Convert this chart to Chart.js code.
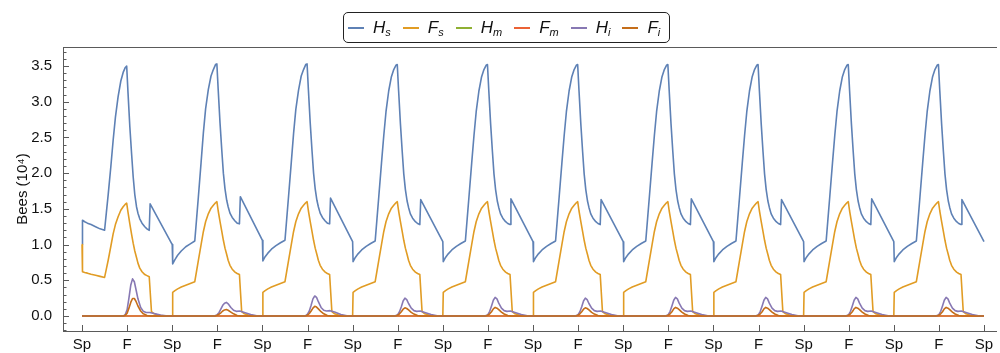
<!DOCTYPE html>
<html>
<head>
<meta charset="utf-8">
<script src="https://cdn.jsdelivr.net/npm/chart.js@4.4.1/dist/chart.umd.min.js"></script>
<style>
  body { margin: 0; background: #fff; }
  #wrap { position: relative; width: 1000px; height: 353px; }
  #legend {
    position: absolute; left: 343px; top: 12px; width: 327px; height: 31px;
    border: 1px solid #222; border-radius: 5px; box-sizing: border-box;
    display: flex; align-items: center; padding-left: 4px;
    font-family: "Liberation Sans", Arial, sans-serif; font-size: 17px; font-style: italic; color: #111;
  }
  .item { display: flex; align-items: center; margin-right: 12px; }
  .swatch { width: 16px; height: 2px; margin-right: 9px; }
  .item sub { font-size: 11px; vertical-align: -3px; }
</style>
</head>
<body>
<div id="wrap">
  <canvas id="beesChart" width="1000" height="353"></canvas>
  <div id="legend"></div>
</div>
<script>
// season ticks
const xTickValues = [0, 0.5, 1, 1.5, 2, 2.5, 3, 3.5, 4, 4.5, 5, 5.5, 6, 6.5, 7, 7.5, 8, 8.5, 9, 9.5, 10];
const xTickLabels = ["Sp", "F", "Sp", "F", "Sp", "F", "Sp", "F", "Sp", "F", "Sp", "F", "Sp", "F", "Sp", "F", "Sp", "F", "Sp", "F", "Sp"];
const yTickValues = [0, 0.5, 1, 1.5, 2, 2.5, 3, 3.5];

const seriesNames = [["H", "s"], ["F", "s"], ["H", "m"], ["F", "m"], ["H", "i"], ["F", "i"]];
const seriesColors = ["#5E81B5", "#E19C24", "#8FB032", "#EB6235", "#8778B3", "#C56E1A"];

// position within the year (0 = spring, 0.5 = fall) and values per year, in 10^4 bees
const hsPhase = [0, 0.005, 0.03, 0.06, 0.1, 0.15, 0.2, 0.25, 0.27, 0.29, 0.32, 0.345, 0.37, 0.40, 0.43,
  0.456, 0.48, 0.495, 0.51, 0.53, 0.55, 0.567, 0.585, 0.604, 0.62, 0.64, 0.665, 0.696, 0.72, 0.745, 0.755];
const hsYears = [
  [1.00, 1.34, 1.32, 1.30, 1.28, 1.25, 1.22, 1.20, 1.45, 1.70, 2.10, 2.46, 2.78, 3.07, 3.29, 3.41, 3.48, 3.50, 3.12, 2.65, 2.26, 1.95, 1.70, 1.53, 1.44, 1.36, 1.30, 1.25, 1.22, 1.20, 1.57],
  [1.00, 0.73, 0.79, 0.85, 0.91, 0.97, 1.01, 1.05, 1.36, 1.67, 2.15, 2.56, 2.90, 3.17, 3.36, 3.45, 3.52, 3.53, 3.16, 2.70, 2.31, 2.00, 1.78, 1.62, 1.53, 1.44, 1.38, 1.33, 1.30, 1.29, 1.67],
  [1.06, 0.77, 0.83, 0.88, 0.935, 0.985, 1.025, 1.06, 1.37, 1.68, 2.15, 2.55, 2.89, 3.16, 3.36, 3.45, 3.52, 3.53, 3.16, 2.70, 2.31, 2.00, 1.78, 1.62, 1.53, 1.44, 1.38, 1.33, 1.30, 1.29, 1.65],
  [1.04, 0.76, 0.82, 0.87, 0.925, 0.975, 1.015, 1.05, 1.36, 1.67, 2.14, 2.52, 2.86, 3.15, 3.35, 3.45, 3.51, 3.52, 3.15, 2.69, 2.30, 1.99, 1.77, 1.61, 1.52, 1.43, 1.37, 1.32, 1.295, 1.28, 1.63],
  [1.04, 0.76, 0.82, 0.87, 0.925, 0.975, 1.015, 1.05, 1.36, 1.67, 2.14, 2.52, 2.86, 3.15, 3.35, 3.45, 3.51, 3.52, 3.15, 2.69, 2.30, 1.99, 1.77, 1.61, 1.52, 1.43, 1.37, 1.32, 1.295, 1.28, 1.64],
  [1.04, 0.76, 0.82, 0.87, 0.925, 0.975, 1.015, 1.05, 1.36, 1.67, 2.14, 2.52, 2.86, 3.15, 3.35, 3.45, 3.51, 3.52, 3.15, 2.69, 2.30, 1.99, 1.77, 1.61, 1.52, 1.43, 1.37, 1.32, 1.295, 1.28, 1.63],
  [1.04, 0.76, 0.82, 0.87, 0.925, 0.975, 1.015, 1.05, 1.36, 1.67, 2.14, 2.52, 2.86, 3.15, 3.35, 3.45, 3.51, 3.52, 3.15, 2.69, 2.30, 1.99, 1.77, 1.61, 1.52, 1.43, 1.37, 1.32, 1.295, 1.28, 1.64],
  [1.04, 0.76, 0.82, 0.87, 0.925, 0.975, 1.015, 1.05, 1.36, 1.67, 2.14, 2.52, 2.86, 3.15, 3.35, 3.45, 3.51, 3.52, 3.15, 2.69, 2.30, 1.99, 1.77, 1.61, 1.52, 1.43, 1.37, 1.32, 1.295, 1.28, 1.63],
  [1.04, 0.76, 0.82, 0.87, 0.925, 0.975, 1.015, 1.05, 1.36, 1.67, 2.14, 2.52, 2.86, 3.15, 3.35, 3.45, 3.51, 3.52, 3.15, 2.69, 2.30, 1.99, 1.77, 1.61, 1.52, 1.43, 1.37, 1.32, 1.295, 1.28, 1.64],
  [1.04, 0.76, 0.82, 0.87, 0.925, 0.975, 1.015, 1.05, 1.36, 1.67, 2.14, 2.52, 2.86, 3.15, 3.35, 3.45, 3.51, 3.52, 3.15, 2.69, 2.30, 1.99, 1.77, 1.61, 1.52, 1.43, 1.37, 1.32, 1.295, 1.28, 1.63]
];
const hsEnd = 1.04;

const fsPhase = [0, 0.005, 0.03, 0.06, 0.1, 0.15, 0.2, 0.25, 0.27, 0.29, 0.32, 0.345, 0.37, 0.40, 0.43,
  0.456, 0.48, 0.495, 0.51, 0.53, 0.55, 0.567, 0.585, 0.604, 0.62, 0.64, 0.665, 0.696, 0.72, 0.745, 0.77, 0.8, 0.85, 0.9];
const fsYears = [
  [1.00, 0.62, 0.61, 0.60, 0.585, 0.57, 0.555, 0.54, 0.66, 0.78, 0.98, 1.15, 1.28, 1.39, 1.48, 1.53, 1.565, 1.58, 1.45, 1.29, 1.14, 1.02, 0.91, 0.82, 0.74, 0.67, 0.62, 0.58, 0.565, 0.55, 0.06, 0.03, 0.01, 0.00],
  [0.00, 0.33, 0.355, 0.38, 0.405, 0.43, 0.455, 0.48, 0.63, 0.78, 1.00, 1.18, 1.32, 1.43, 1.51, 1.55, 1.585, 1.60, 1.47, 1.32, 1.18, 1.06, 0.95, 0.86, 0.78, 0.71, 0.655, 0.615, 0.595, 0.58, 0.06, 0.03, 0.01, 0.00],
  [0.00, 0.33, 0.355, 0.38, 0.405, 0.43, 0.455, 0.48, 0.63, 0.78, 1.00, 1.18, 1.32, 1.43, 1.51, 1.55, 1.585, 1.60, 1.47, 1.32, 1.18, 1.06, 0.95, 0.86, 0.78, 0.71, 0.655, 0.615, 0.595, 0.58, 0.06, 0.03, 0.01, 0.00],
  [0.00, 0.33, 0.355, 0.38, 0.405, 0.43, 0.455, 0.48, 0.63, 0.78, 1.00, 1.18, 1.32, 1.43, 1.51, 1.55, 1.585, 1.60, 1.47, 1.32, 1.18, 1.06, 0.95, 0.86, 0.78, 0.71, 0.655, 0.615, 0.595, 0.58, 0.06, 0.03, 0.01, 0.00],
  [0.00, 0.33, 0.355, 0.38, 0.405, 0.43, 0.455, 0.48, 0.63, 0.78, 1.00, 1.18, 1.32, 1.43, 1.51, 1.55, 1.585, 1.60, 1.47, 1.32, 1.18, 1.06, 0.95, 0.86, 0.78, 0.71, 0.655, 0.615, 0.595, 0.58, 0.06, 0.03, 0.01, 0.00],
  [0.00, 0.33, 0.355, 0.38, 0.405, 0.43, 0.455, 0.48, 0.63, 0.78, 1.00, 1.18, 1.32, 1.43, 1.51, 1.55, 1.585, 1.60, 1.47, 1.32, 1.18, 1.06, 0.95, 0.86, 0.78, 0.71, 0.655, 0.615, 0.595, 0.58, 0.06, 0.03, 0.01, 0.00],
  [0.00, 0.33, 0.355, 0.38, 0.405, 0.43, 0.455, 0.48, 0.63, 0.78, 1.00, 1.18, 1.32, 1.43, 1.51, 1.55, 1.585, 1.60, 1.47, 1.32, 1.18, 1.06, 0.95, 0.86, 0.78, 0.71, 0.655, 0.615, 0.595, 0.58, 0.06, 0.03, 0.01, 0.00],
  [0.00, 0.33, 0.355, 0.38, 0.405, 0.43, 0.455, 0.48, 0.63, 0.78, 1.00, 1.18, 1.32, 1.43, 1.51, 1.55, 1.585, 1.60, 1.47, 1.32, 1.18, 1.06, 0.95, 0.86, 0.78, 0.71, 0.655, 0.615, 0.595, 0.58, 0.06, 0.03, 0.01, 0.00],
  [0.00, 0.33, 0.355, 0.38, 0.405, 0.43, 0.455, 0.48, 0.63, 0.78, 1.00, 1.18, 1.32, 1.43, 1.51, 1.55, 1.585, 1.60, 1.47, 1.32, 1.18, 1.06, 0.95, 0.86, 0.78, 0.71, 0.655, 0.615, 0.595, 0.58, 0.06, 0.03, 0.01, 0.00],
  [0.00, 0.33, 0.355, 0.38, 0.405, 0.43, 0.455, 0.48, 0.63, 0.78, 1.00, 1.18, 1.32, 1.43, 1.51, 1.55, 1.585, 1.60, 1.47, 1.32, 1.18, 1.06, 0.95, 0.86, 0.78, 0.71, 0.655, 0.615, 0.595, 0.58, 0.06, 0.03, 0.01, 0.00]
];
const fsEnd = 0.0;

const hiPhase = [0.46, 0.48, 0.50, 0.52, 0.54, 0.56, 0.58, 0.60, 0.62, 0.65, 0.68, 0.71, 0.75, 0.80, 0.87, 0.95];
const hiYears = [
  [0, 0.02, 0.09, 0.25, 0.43, 0.52, 0.48, 0.36, 0.24, 0.12, 0.065, 0.05, 0.048, 0.035, 0.012, 0],
  [0, 0.005, 0.02, 0.05, 0.10, 0.15, 0.18, 0.19, 0.17, 0.12, 0.08, 0.065, 0.07, 0.05, 0.02, 0],
  [0, 0.005, 0.025, 0.07, 0.15, 0.24, 0.28, 0.26, 0.20, 0.12, 0.08, 0.07, 0.075, 0.055, 0.02, 0],
  [0, 0.005, 0.02, 0.06, 0.13, 0.21, 0.25, 0.23, 0.175, 0.11, 0.075, 0.065, 0.07, 0.05, 0.02, 0],
  [0, 0.005, 0.02, 0.065, 0.14, 0.22, 0.26, 0.24, 0.18, 0.11, 0.075, 0.065, 0.07, 0.05, 0.02, 0],
  [0, 0.005, 0.02, 0.06, 0.13, 0.21, 0.25, 0.23, 0.175, 0.11, 0.075, 0.065, 0.07, 0.05, 0.02, 0],
  [0, 0.005, 0.02, 0.065, 0.14, 0.22, 0.26, 0.24, 0.18, 0.11, 0.075, 0.065, 0.07, 0.05, 0.02, 0],
  [0, 0.005, 0.02, 0.065, 0.14, 0.22, 0.26, 0.24, 0.18, 0.11, 0.075, 0.065, 0.07, 0.05, 0.02, 0],
  [0, 0.005, 0.02, 0.065, 0.14, 0.22, 0.26, 0.24, 0.18, 0.11, 0.075, 0.065, 0.07, 0.05, 0.02, 0],
  [0, 0.005, 0.02, 0.065, 0.14, 0.22, 0.26, 0.24, 0.18, 0.11, 0.075, 0.065, 0.07, 0.05, 0.02, 0]
];

const fiPhase = [0.46, 0.48, 0.50, 0.52, 0.54, 0.56, 0.58, 0.60, 0.62, 0.65, 0.68, 0.72, 0.76];
const fiYears = [
  [0, 0.01, 0.04, 0.11, 0.19, 0.245, 0.245, 0.20, 0.14, 0.07, 0.03, 0.008, 0],
  [0, 0.002, 0.01, 0.025, 0.045, 0.07, 0.085, 0.09, 0.08, 0.055, 0.03, 0.008, 0],
  [0, 0.003, 0.012, 0.035, 0.07, 0.11, 0.135, 0.125, 0.10, 0.06, 0.03, 0.008, 0],
  [0, 0.003, 0.01, 0.03, 0.06, 0.095, 0.115, 0.105, 0.085, 0.05, 0.027, 0.008, 0],
  [0, 0.003, 0.01, 0.03, 0.06, 0.10, 0.12, 0.11, 0.09, 0.055, 0.028, 0.008, 0],
  [0, 0.003, 0.01, 0.03, 0.06, 0.095, 0.115, 0.105, 0.085, 0.05, 0.027, 0.008, 0],
  [0, 0.003, 0.01, 0.03, 0.06, 0.10, 0.12, 0.11, 0.09, 0.055, 0.028, 0.008, 0],
  [0, 0.003, 0.01, 0.03, 0.06, 0.10, 0.12, 0.11, 0.09, 0.055, 0.028, 0.008, 0],
  [0, 0.003, 0.01, 0.03, 0.06, 0.10, 0.12, 0.11, 0.09, 0.055, 0.028, 0.008, 0],
  [0, 0.003, 0.01, 0.03, 0.06, 0.10, 0.12, 0.11, 0.09, 0.055, 0.028, 0.008, 0]
];

// hive (m) compartments stay at zero over the whole run
const hmTimes = [0, 10];
const hmValues = [0, 0];
const fmTimes = [0, 10];
const fmValues = [0, 0];

function yearPoints(phase, years, first, last) {
  const pts = [];
  if (first != null) pts.push({ x: 0, y: first });
  years.forEach((vals, yr) => {
    vals.forEach((v, i) => pts.push({ x: yr + phase[i], y: v }));
  });
  if (last != null) pts.push({ x: 10, y: last });
  return pts;
}
function pairPoints(xs, ys) {
  return xs.map((x, i) => ({ x: x, y: ys[i] }));
}

const seriesData = [
  yearPoints(hsPhase, hsYears, null, hsEnd),
  yearPoints(fsPhase, fsYears, null, fsEnd),
  pairPoints(hmTimes, hmValues),
  pairPoints(fmTimes, fmValues),
  yearPoints(hiPhase, hiYears, 0, 0),
  yearPoints(fiPhase, fiYears, 0, 0)
];

const frameColor = "#5a5a5a";
const xMin = -0.211, xMax = 10.133;
const yMin = -0.21, yMax = 3.766;

// ticks drawn inward like the original frame
const innerTicks = {
  id: "innerTicks",
  afterDraw(chart) {
    const ctx = chart.ctx;
    const xs = chart.scales.x, ys = chart.scales.y;
    const area = chart.chartArea;
    ctx.save();
    ctx.strokeStyle = frameColor;
    ctx.lineWidth = 1;
    ctx.beginPath();
    xTickValues.forEach(v => {
      const px = Math.round(xs.getPixelForValue(v)) + 0.5;
      ctx.moveTo(px, area.bottom);
      ctx.lineTo(px, area.bottom - 6);
    });
    for (let k = Math.ceil(yMin * 10); k <= Math.floor(yMax * 10); k++) {
      const py = Math.round(ys.getPixelForValue(k / 10)) + 0.5;
      const len = k % 5 === 0 ? 6 : 3.5;
      ctx.moveTo(area.left, py);
      ctx.lineTo(area.left + len, py);
    }
    ctx.stroke();
    ctx.restore();
  }
};

const ctx = document.getElementById("beesChart").getContext("2d");
new Chart(ctx, {
  type: "line",
  data: {
    datasets: seriesData.map((pts, i) => ({
      label: seriesNames[i].join(""),
      data: pts,
      borderColor: seriesColors[i],
      backgroundColor: seriesColors[i],
      borderWidth: 1.6,
      borderJoinStyle: "round",
      pointRadius: 0,
      tension: 0,
      fill: false,
      order: 6 - i
    }))
  },
  options: {
    responsive: false,
    animation: false,
    devicePixelRatio: 1,
    layout: { padding: { left: 0, right: 4, top: 0, bottom: 0 } },
    plugins: { legend: { display: false }, tooltip: { enabled: false } },
    scales: {
      x: {
        type: "linear", position: "bottom", min: xMin, max: xMax,
        afterBuildTicks: s => { s.ticks = xTickValues.map(v => ({ value: v })); },
        afterFit: s => { s.height = 22; },
        grid: { display: true, drawOnChartArea: false, drawTicks: false },
        border: { display: true, color: frameColor, width: 1 },
        ticks: {
          padding: 5, color: "#111", maxRotation: 0, autoSkip: false,
          font: { family: "Liberation Sans", size: 15 },
          callback: v => xTickLabels[xTickValues.indexOf(v)]
        }
      },
      xTop: {
        type: "linear", axis: "x", position: "top", min: xMin, max: xMax,
        afterFit: s => { s.height = 47; },
        grid: { display: true, drawOnChartArea: false, drawTicks: false },
        border: { display: true, color: frameColor, width: 1 },
        ticks: { display: false }
      },
      y: {
        type: "linear", position: "left", min: yMin, max: yMax,
        afterBuildTicks: s => { s.ticks = yTickValues.map(v => ({ value: v })); },
        afterFit: s => { s.width = 63; },
        grid: { display: true, drawOnChartArea: false, drawTicks: false },
        border: { display: true, color: frameColor, width: 1 },
        title: {
          display: true, text: "Bees (10⁴)", color: "#111",
          font: { family: "Liberation Sans", size: 15 },
          padding: { top: 14, bottom: 0 }
        },
        ticks: {
          padding: 11, color: "#111",
          font: { family: "Liberation Sans", size: 15 },
          callback: v => v.toFixed(1)
        }
      }
    }
  },
  plugins: [innerTicks]
});

// legend with subscripted names
const legend = document.getElementById("legend");
seriesNames.forEach((n, i) => {
  const item = document.createElement("div");
  item.className = "item";
  item.innerHTML = '<span class="swatch" style="background:' + seriesColors[i] + '"></span>' +
    '<span>' + n[0] + '<sub>' + n[1] + '</sub></span>';
  legend.appendChild(item);
});
</script>
</body>
</html>
